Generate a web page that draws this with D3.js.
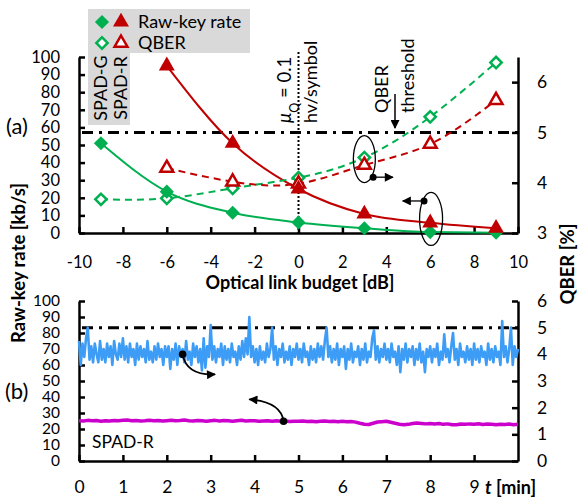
<!DOCTYPE html>
<html>
<head>
<meta charset="utf-8">
<script src="https://cdn.jsdelivr.net/npm/d3@7"></script>
<style>
  body { margin: 0; background: #fff; }
  svg { display: block; font-family: Lato, "Open Sans", sans-serif; }
</style>
</head>
<body>
<svg id="chart"></svg>
<script>
// ---- panel (a) data: optical link budget sweep ----
const budgetG = [-9, -6, -3, 0, 3, 6, 9];
const rateG = [51, 23.5, 11.5, 6, 2.7, 0.5, 0.2];          // SPAD-G raw-key rate [kb/s]
const qberG = [3.67, 3.69, 3.89, 4.1, 4.5, 5.31, 6.39];   // SPAD-G QBER [%]
const budgetR = [-6, -3, 0, 3, 6, 9];
const rateR = [95, 51, 25, 10.8, 5.8, 2.7];               // SPAD-R raw-key rate [kb/s]
const qberR = [4.29, 4.02, 3.98, 4.35, 4.77, 5.64];       // SPAD-R QBER [%]
const qberThreshold = 5;
const muBudget = 0;

const budgetTicks = [-10, -8, -6, -4, -2, 0, 2, 4, 6, 8, 10];
const rateTicks = [0, 10, 20, 30, 40, 50, 60, 70, 80, 90, 100];
const qberTicksA = [3, 4, 5, 6];

// ---- panel (b) data: time trace, SPAD-R ----
const traceStep = 0.04;   // min per QBER sample
const qberTrace = [
  4.5,3.6,4.4,3.9,4.6,5.0,3.8,4.3,3.7,4.4,4.0,3.7,4.5,3.8,4.2,3.7,4.4,3.9,4.3,3.6,4.5,4.0,3.8,4.4,3.9,
  4.6,3.8,4.3,3.7,4.4,3.9,4.2,3.6,4.4,3.8,4.3,3.9,4.2,3.7,4.5,3.8,4.1,3.7,4.3,3.8,4.4,3.9,4.2,3.6,4.3,
  3.9,4.3,3.45,4.2,3.8,4.4,3.6,4.3,3.9,4.2,3.7,4.5,3.8,4.1,3.6,4.4,3.9,4.3,3.7,4.2,3.4,4.6,3.5,4.3,3.9,
  5.1,3.8,4.3,3.7,4.2,3.9,4.4,3.6,4.3,3.8,4.2,3.7,4.4,3.9,4.1,3.6,4.3,3.8,4.5,3.9,4.6,4.0,5.4,3.9,4.3,
  3.7,4.2,3.6,4.3,3.8,4.1,3.7,4.4,3.9,4.2,5.0,3.8,4.3,3.6,4.2,3.9,4.4,3.7,4.1,3.8,4.3,3.6,4.2,3.9,4.4,
  3.8,4.2,3.7,4.4,3.9,4.1,3.6,4.3,3.8,4.2,3.7,4.4,3.9,4.3,3.8,4.5,5.0,3.9,4.3,3.7,4.2,3.8,4.4,3.6,4.2,
  3.9,4.3,3.45,4.2,3.8,4.4,3.7,4.1,3.9,4.3,3.6,4.2,3.8,4.4,3.7,4.1,3.9,4.6,4.9,3.8,4.3,3.7,4.2,3.9,4.4,
  3.8,4.2,3.7,4.4,3.9,4.1,3.6,4.3,3.33,4.2,3.8,4.4,3.7,4.2,3.9,4.3,3.6,4.2,3.8,4.4,3.7,4.1,3.33,4.2,3.9,
  4.3,3.7,4.2,3.9,4.4,3.6,4.1,3.8,4.75,3.9,4.2,3.7,4.3,4.8,3.8,4.2,3.6,4.4,3.9,4.1,3.7,4.3,3.8,4.2,3.6,
  4.4,3.8,4.2,3.7,4.3,3.9,4.1,3.6,4.4,3.8,4.2,3.7,4.3,3.9,4.1,3.6,5.25,3.9,4.3,3.7,4.2,5.0,3.6,4.3,3.9,
  4.2
];
const rateStep = 0.1;     // min per raw-key sample
const rateTrace = [
  25.2,25.0,25.4,25.1,25.3,24.9,25.2,25.0,25.3,25.1,
  25.4,25.6,25.2,25.3,25.0,25.2,25.5,25.1,25.3,25.0,
  25.2,25.4,25.1,25.3,25.6,25.2,25.0,25.3,25.1,24.9,
  25.2,25.4,25.0,25.3,25.1,24.9,25.2,25.5,25.0,25.2,
  25.1,24.8,25.0,25.2,24.9,25.1,24.8,25.0,24.7,24.9,
  24.8,25.0,24.7,24.9,24.6,24.8,25.0,24.7,24.9,24.6,
  24.8,24.5,24.7,24.3,23.6,23.0,22.8,23.6,24.4,24.6,
  24.8,24.2,23.6,23.0,22.6,22.9,23.4,23.8,23.5,23.2,
  23.5,23.1,23.4,22.9,23.2,22.7,22.6,23.1,22.9,23.2,
  23.0,23.3,22.8,23.1,22.9,22.6,23.0,22.8,23.1,22.7,
  22.9
];
const timeTicks = [0, 1, 2, 3, 4, 5, 6, 7, 8, 9];
const rateTicksB = [0, 10, 20, 30, 40, 50, 60, 70, 80, 90, 100];
const qberTicksB = [0, 1, 2, 3, 4, 5, 6];

const green = '#00b050', red = '#c00000', blue = '#3d9df6', magenta = '#cc00cc';

const svg = d3.select('#chart').attr('width', 578).attr('height', 498);

// scales
const xA = d3.scaleLinear().domain([-10, 10]).range([79, 518]);
const yA = d3.scaleLinear().domain([0, 100]).range([233, 57]);
const yA2 = d3.scaleLinear().domain([3, 6.5]).range([233, 57]);
const xB = d3.scaleLinear().domain([0, 10]).range([79, 518]);
const yB = d3.scaleLinear().domain([0, 100]).range([461, 301]);
const yB2 = d3.scaleLinear().domain([0, 6]).range([461, 301]);

const defs = svg.append('defs');
defs.append('marker').attr('id', 'head')
  .attr('viewBox', '0 0 10 10').attr('refX', 9).attr('refY', 5)
  .attr('markerWidth', 10).attr('markerHeight', 9)
  .attr('markerUnits', 'userSpaceOnUse').attr('orient', 'auto')
  .append('path').attr('d', 'M0,0 L10,5 L0,10 z').attr('fill', '#000');

// legend background (drawn first)
svg.append('path')
  .attr('d', 'M88,9 H250 V53 H130 V125 H88 Z')
  .attr('fill', '#d9d9d9');

// plain hyphen minus, no decimals
const plain = d => String(d);

function styleAxis(size) {
  return g => {
    g.attr('font-family', null).attr('font-size', null);
    g.selectAll('path, line').attr('stroke', '#000').attr('stroke-width', 2.5);
    g.selectAll('text').style('font-size', size + 'px').attr('fill', '#000');
  };
}

// ---------- panel (a) ----------
svg.append('g').attr('transform', 'translate(0,233)')
  .call(d3.axisBottom(xA).tickValues(budgetTicks).tickFormat(plain).tickSizeInner(-6).tickSizeOuter(0).tickPadding(23))
  .call(styleAxis(16.5));
svg.append('g').attr('transform', 'translate(79,0)')
  .call(d3.axisLeft(yA).tickValues(rateTicks).tickFormat(plain).tickSizeInner(-6).tickSizeOuter(0).tickPadding(19))
  .call(styleAxis(16.5));
svg.append('g').attr('transform', 'translate(518,0)')
  .call(d3.axisRight(yA2).tickValues(qberTicksA).tickFormat(plain).tickSizeInner(-6).tickSizeOuter(0).tickPadding(19))
  .call(styleAxis(17.5));

// threshold and mu lines
svg.append('line')
  .attr('x1', xA(-10) + 3).attr('x2', xA(10)).attr('y1', yA2(qberThreshold)).attr('y2', yA2(qberThreshold))
  .attr('stroke', '#000').attr('stroke-width', 3).attr('stroke-dasharray', '11,6,3,6');
svg.append('line')
  .attr('x1', xA(muBudget)).attr('x2', xA(muBudget)).attr('y1', 52).attr('y2', 233)
  .attr('stroke', '#000').attr('stroke-width', 2).attr('stroke-dasharray', '2,2');

const pairs = (xs, ys) => xs.map((x, i) => [x, ys[i]]);
const lineRate = d3.line().x(d => xA(d[0])).y(d => yA(d[1])).curve(d3.curveMonotoneX);
const lineQber = d3.line().x(d => xA(d[0])).y(d => yA2(d[1])).curve(d3.curveNatural);

svg.append('path').attr('d', lineRate(pairs(budgetG, rateG)))
  .attr('fill', 'none').attr('stroke', green).attr('stroke-width', 2);
svg.append('path').attr('d', lineRate(pairs(budgetR, rateR)))
  .attr('fill', 'none').attr('stroke', red).attr('stroke-width', 2);
svg.append('path').attr('d', lineQber(pairs(budgetG, qberG)))
  .attr('fill', 'none').attr('stroke', green).attr('stroke-width', 2).attr('stroke-dasharray', '7,5');
svg.append('path').attr('d', lineQber(pairs(budgetR, qberR)))
  .attr('fill', 'none').attr('stroke', red).attr('stroke-width', 2).attr('stroke-dasharray', '7,5');

const diamond = d3.symbol().type(d3.symbolSquare);
const triangle = d3.symbol().type(d3.symbolTriangle);

function diamonds(data, yScale, filled) {
  svg.append('g').selectAll('path').data(data).join('path')
    .attr('d', diamond.size(filled ? 100 : 64)())
    .attr('transform', d => `translate(${xA(d[0])},${yScale(d[1])}) rotate(45)`)
    .attr('fill', filled ? green : '#fff')
    .attr('stroke', green).attr('stroke-width', filled ? 0 : 2.5);
}
function triangles(data, yScale, filled) {
  svg.append('g').selectAll('path').data(data).join('path')
    .attr('d', triangle.size(filled ? 110 : 72)())
    .attr('transform', d => `translate(${xA(d[0])},${yScale(d[1])})`)
    .attr('fill', filled ? red : '#fff')
    .attr('stroke', red).attr('stroke-width', filled ? 0 : 2.5);
}
diamonds(pairs(budgetG, qberG), yA2, false);
triangles(pairs(budgetR, qberR), yA2, false);
diamonds(pairs(budgetG, rateG), yA, true);
triangles(pairs(budgetR, rateR), yA, true);

// ellipses with axis pointers
function pointer(cx, cy, rx, ry, dx, dy, tx) {
  svg.append('ellipse').attr('cx', cx).attr('cy', cy).attr('rx', rx).attr('ry', ry)
    .attr('fill', 'none').attr('stroke', '#000').attr('stroke-width', 1.3);
  svg.append('circle').attr('cx', dx).attr('cy', dy).attr('r', 3.5).attr('fill', '#000');
  svg.append('line').attr('x1', dx).attr('y1', dy).attr('x2', tx).attr('y2', dy)
    .attr('stroke', '#000').attr('stroke-width', 1.3).attr('marker-end', 'url(#head)');
}
pointer(xA(3), yA2(4.47), 11, 23.5, xA(3.4), yA2(4.11), xA(4.3));
pointer(xA(6.04), yA(8), 11.5, 26.5, xA(5.72), yA(18.2), xA(4.75));

// text annotations (a)
function vtext(x, y, anchor, size) {
  return svg.append('text').attr('transform', `translate(${x},${y}) rotate(-90)`)
    .attr('text-anchor', anchor || 'start').style('font-size', (size || 18) + 'px');
}
const mu = vtext(291, 123, 'start', 18.5);
mu.append('tspan').attr('font-style', 'italic').text('μ');
mu.append('tspan').attr('baseline-shift', 'sub').style('font-size', '12.5px').text('Q');
mu.append('tspan').text(' = 0.1');
vtext(317, 123).text('hv/symbol');
vtext(388, 113).text('QBER');
vtext(414, 113).text('threshold');
svg.append('line').attr('x1', 395).attr('x2', 395).attr('y1', 94).attr('y2', 128)
  .attr('stroke', '#000').attr('stroke-width', 1.5).attr('marker-end', 'url(#head)');

// legend
svg.append('path').attr('d', diamond.size(100)()).attr('transform', 'translate(102,22) rotate(45)').attr('fill', green);
svg.append('path').attr('d', triangle.size(110)()).attr('transform', 'translate(121,22)').attr('fill', red);
svg.append('path').attr('d', diamond.size(64)()).attr('transform', 'translate(102,43) rotate(45)')
  .attr('fill', '#fff').attr('stroke', green).attr('stroke-width', 2.5);
svg.append('path').attr('d', triangle.size(72)()).attr('transform', 'translate(121,43)')
  .attr('fill', '#fff').attr('stroke', red).attr('stroke-width', 2.5);
svg.append('text').attr('x', 138).attr('y', 28).style('font-size', '18px').text('Raw-key rate');
svg.append('text').attr('x', 138).attr('y', 49).style('font-size', '18px').text('QBER');
vtext(107, 88, 'middle').text('SPAD-G');
vtext(127, 88, 'middle').text('SPAD-R');

svg.append('text').attr('x', 6).attr('y', 134).style('font-size', '22px').text('(a)');
svg.append('text').attr('x', 300).attr('y', 289).attr('text-anchor', 'middle')
  .style('font-size', '18px').attr('font-weight', 'bold').text('Optical link budget [dB]');

// ---------- panel (b) ----------
svg.append('g').attr('transform', 'translate(0,461)')
  .call(d3.axisBottom(xB).tickValues(timeTicks).tickFormat(plain).tickSizeInner(-6).tickSizeOuter(0).tickPadding(20))
  .call(styleAxis(17.5));
svg.append('g').attr('transform', 'translate(79,0)')
  .call(d3.axisLeft(yB).tickValues(rateTicksB).tickFormat(plain).tickSizeInner(-6).tickSizeOuter(0).tickPadding(19))
  .call(styleAxis(15.5));
svg.append('g').attr('transform', 'translate(518,0)')
  .call(d3.axisRight(yB2).tickValues(qberTicksB).tickFormat(plain).tickSizeInner(-6).tickSizeOuter(0).tickPadding(19))
  .call(styleAxis(17.5));

svg.append('line')
  .attr('x1', xB(0) + 3).attr('x2', xB(10)).attr('y1', yB2(qberThreshold)).attr('y2', yB2(qberThreshold))
  .attr('stroke', '#000').attr('stroke-width', 3).attr('stroke-dasharray', '11,6,3,6');

svg.append('path')
  .attr('d', d3.line().x((d, i) => xB(i * traceStep)).y(d => yB2(d))(qberTrace))
  .attr('fill', 'none').attr('stroke', blue).attr('stroke-width', 2.6).attr('stroke-linejoin', 'round');
svg.append('path')
  .attr('d', d3.line().x((d, i) => xB(i * rateStep)).y(d => yB(d))(rateTrace))
  .attr('fill', 'none').attr('stroke', magenta).attr('stroke-width', 3.5).attr('stroke-linejoin', 'round');

// curved pointers (b)
function curved(x0, y0, x1, y1, cx, cy) {
  svg.append('path').attr('d', `M${x0},${y0} Q${cx},${cy} ${x1},${y1}`)
    .attr('fill', 'none').attr('stroke', '#000').attr('stroke-width', 1.8).attr('marker-end', 'url(#head)');
  svg.append('circle').attr('cx', x0).attr('cy', y0).attr('r', 3.8).attr('fill', '#000');
}
curved(xB(2.36), yB2(4.0), xB(3.1), yB2(3.25), xB(2.45), yB2(3.2));
curved(xB(4.66), yB(24.8), xB(3.88), yB(38.5), xB(4.6), yB(37));

svg.append('text').attr('x', 5).attr('y', 399).style('font-size', '22px').text('(b)');
svg.append('text').attr('x', 92).attr('y', 448).style('font-size', '17.5px').text('SPAD-R');
const tl = svg.append('text').attr('x', 485).attr('y', 494).style('font-size', '18px').attr('font-weight', 'bold');
tl.append('tspan').attr('font-style', 'italic').text('t');
tl.append('tspan').text(' [min]');

// shared axis titles
svg.append('text').attr('transform', 'translate(25,263) rotate(-90)').attr('text-anchor', 'middle')
  .style('font-size', '18.5px').attr('font-weight', 'bold').text('Raw-key rate [kb/s]');
svg.append('text').attr('transform', 'translate(574,264) rotate(-90)').attr('text-anchor', 'middle')
  .style('font-size', '18.5px').attr('font-weight', 'bold').text('QBER [%]');
</script>
</body>
</html>
